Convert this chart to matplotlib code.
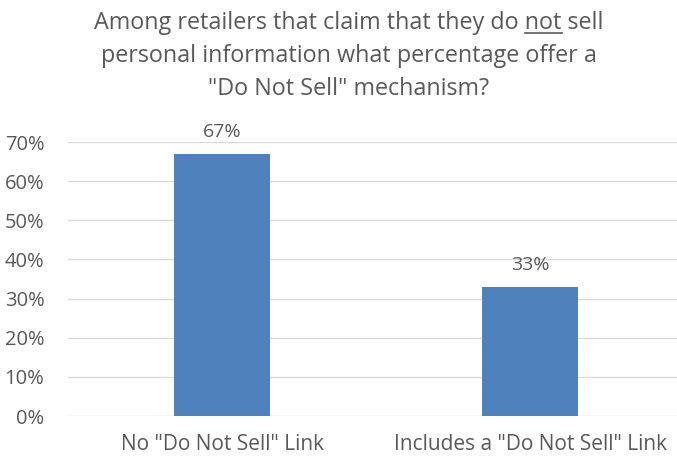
import matplotlib
matplotlib.use("Agg")
import matplotlib.pyplot as plt
from matplotlib.lines import Line2D
from matplotlib.ticker import PercentFormatter

categories = ['No "Do Not Sell" Link', 'Includes a "Do Not Sell" Link']
values = [0.67, 0.33]
value_labels = ["67%", "33%"]
yticks = [0, 0.1, 0.2, 0.3, 0.4, 0.5, 0.6, 0.7]

title_lines = ["Among retailers that claim that they do not sell",
               "personal information what percentage offer a",
               "\"Do Not Sell\" mechanism?"]

TXT = "#595959"
plt.rcParams['font.family'] = ['Open Sans', 'DejaVu Sans']

W, H = 677, 457
fig = plt.figure(figsize=(W / 100, H / 100), dpi=100)
ax = fig.add_axes([68 / W, 1 - 416 / H, (W - 68) / W, (416 - 142) / H])

x = list(range(len(categories)))
ax.bar(x, values, width=0.31, color="#4F81BD", zorder=3)
for xi, v, lab in zip(x, values, value_labels):
    ax.annotate(lab, (xi, v), xytext=(0, 9.5), textcoords="offset points",
                ha="center", va="bottom", fontsize=14, color=TXT)

ax.set_xlim(-0.5, -0.5 + (W - 68) / 308)
ax.set_ylim(0, 0.7)
ax.set_yticks(yticks)
ax.yaxis.set_major_formatter(PercentFormatter(1.0, decimals=0))
ax.set_xticks(x)
ax.set_xticklabels(categories)
ax.tick_params(axis="y", length=0, labelsize=14.5, labelcolor=TXT, pad=17)
ax.tick_params(axis="x", length=0, labelsize=15, labelcolor=TXT, pad=13)
ax.grid(axis="y", color="#D9D9D9", linewidth=1, zorder=0)
for s in ax.spines.values():
    s.set_visible(False)

# Title
FS = 16.8
cx = 349 / W
ys = [1 - 23 / H, 1 - 56 / H, 1 - 89 / H]
texts = []
for line, yy in zip(title_lines, ys):
    t = fig.text(cx, yy, line, ha="center", va="center", fontsize=FS, color=TXT)
    texts.append(t)

fig.canvas.draw()
r = fig.canvas.get_renderer()
full = texts[0].get_window_extent(r)
pre = fig.text(0, 0, "Among retailers that claim that they do ", fontsize=FS)
notw = fig.text(0, 0, "not", fontsize=FS)
pw = pre.get_window_extent(r).width
nw = notw.get_window_extent(r).width
pre.remove(); notw.remove()
x0 = full.x0 + pw
x1 = x0 + nw
yline = full.y0 + 2
fig.add_artist(Line2D([x0 / W, x1 / W], [yline / H, yline / H],
                      transform=fig.transFigure, color=TXT, linewidth=1.2))

fig.savefig("out.png", dpi=100)
